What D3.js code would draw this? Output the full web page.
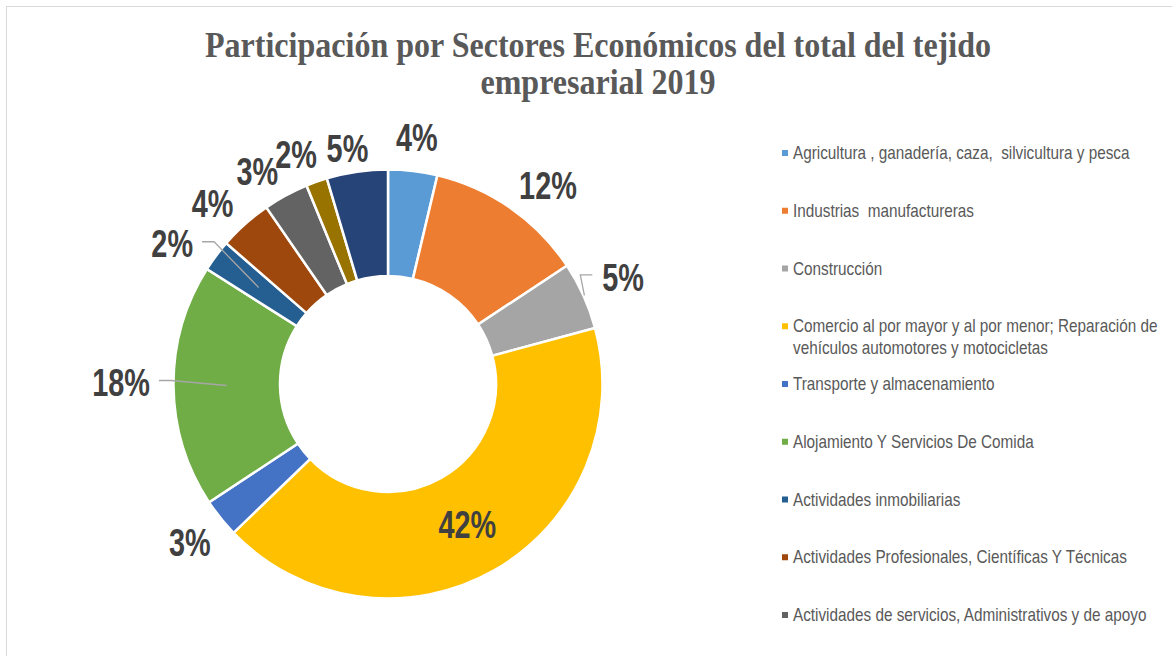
<!DOCTYPE html>
<html><head><meta charset="utf-8">
<script src="https://cdn.jsdelivr.net/npm/d3@7"></script>
<style>body{margin:0;background:#fff;} svg{display:block;} text{white-space:pre;}</style>
</head><body><svg id="c" width="1172" height="656"></svg>
<script>
// ---- data ----
const titleLines = ["Participación por Sectores Económicos del total del tejido", "empresarial 2019"];
// legend entries visible in the chart (the last two slices' legend entries fall outside the frame)
const legendLabels = [
  ["Agricultura , ganadería, caza,  silvicultura y pesca"],
  ["Industrias  manufactureras"],
  ["Construcción"],
  ["Comercio al por mayor y al por menor; Reparación de", "vehículos automotores y motocicletas"],
  ["Transporte y almacenamiento"],
  ["Alojamiento Y Servicios De Comida"],
  ["Actividades inmobiliarias"],
  ["Actividades Profesionales, Científicas Y Técnicas"],
  ["Actividades de servicios, Administrativos y de apoyo"]
];
const shares = [3.7, 12.0, 5.1, 42.0, 2.9, 18.3, 2.4, 4.0, 3.4, 1.6, 4.6];
const colors = ["#5B9BD5", "#ED7D31", "#A5A5A5", "#FFC000", "#4472C4", "#70AD47", "#255E91", "#9E480E", "#636363", "#997300", "#264478"];

// ---- layout config ----
const cx = 388, cy = 384, rOuter = 214.5, rInner = 108;
const labelR = [248, 255, 258, 161, 254, 267, 258, 250, 245, 246, 240];
const labelNudge = [[0,0],[14,10],[0,0],[0,0],[0,0],[0,-4],[-9,14],[-9,6],[-14,3],[-10,2],[-6,2]];
const leaderIdx = {2: "right", 5: "left", 6: "left"};
const TITLE_SX = 0.89;
const LABEL_SX = 0.74;
const LEGEND_SX = 0.85;

const svg = d3.select("#c");

// frame
svg.append("line").attr("x1", 6).attr("x2", 1172).attr("y1", 6.5).attr("y2", 6.5).attr("stroke", "#D9D9D9").attr("stroke-width", 1);
svg.append("line").attr("x1", 6.5).attr("x2", 6.5).attr("y1", 6).attr("y2", 656).attr("stroke", "#D9D9D9").attr("stroke-width", 1);

function sText(g, str, x, y, opts) {
  const t = g.append("text")
    .attr("transform", `translate(${x},${y}) scale(${opts.sx},1)`)
    .attr("text-anchor", opts.anchor || "start")
    .attr("font-family", opts.family)
    .attr("font-size", opts.size)
    .attr("font-weight", opts.weight || "normal")
    .attr("fill", opts.fill);
  if (opts.baseline) t.attr("dominant-baseline", opts.baseline);
  t.text(str);
  return t;
}

// title
const titleBase = [57, 94];
titleLines.forEach((s, i) => sText(svg, s, 598, titleBase[i], {sx: TITLE_SX, anchor: "middle", family: "'Liberation Serif','Times New Roman',serif", size: 36, weight: "bold", fill: "#595959"}));

// donut
const pie = d3.pie().sort(null).value(d => d);
const arcs = pie(shares);
const arc = d3.arc().innerRadius(rInner).outerRadius(rOuter);
const g = svg.append("g").attr("transform", `translate(${cx},${cy})`);
g.selectAll("path").data(arcs).join("path")
  .attr("d", arc).attr("fill", (d, i) => colors[i])
  .attr("stroke", "#fff").attr("stroke-width", 2.5).attr("stroke-linejoin", "miter");

const mid = d => (d.startAngle + d.endAngle) / 2;
const polar = (a, r) => [r * Math.sin(a), -r * Math.cos(a)];

// leader lines (drawn under labels)
const lg = g.append("g");
const labG = g.append("g");
arcs.forEach((d, i) => {
  const a = mid(d);
  const p = polar(a, labelR[i]);
  const x = p[0] + labelNudge[i][0], y = p[1] + labelNudge[i][1];
  const t = sText(labG, Math.round(d.data) + "%", x, y, {sx: LABEL_SX, anchor: "middle", family: "'Liberation Sans',Arial,sans-serif", size: 39, weight: "bold", fill: "#404040", baseline: "central"});
  if (leaderIdx[i]) {
    const hw = t.node().getComputedTextLength() * LABEL_SX / 2;
    let pts;
    if (leaderIdx[i] === "left") {
      const start = [x + hw + 9, y - 2];
      const elbow = [start[0] + 12, start[1]];
      const end = arc.centroid(d);
      pts = [start, elbow, end];
    } else {
      const start = [x - hw - 10, y - 3];
      const elbow = [start[0] - 12, start[1]];
      const end = polar(a, rOuter + 1);
      pts = [start, elbow, end];
    }
    lg.append("path").attr("d", d3.line()(pts)).attr("fill", "none").attr("stroke", "#A6A6A6").attr("stroke-width", 1.3);
  }
});

// legend
const legY0 = 153, legStep = 57.75;
const leg = svg.append("g");
legendLabels.forEach((lines, i) => {
  const y = legY0 + i * legStep;
  leg.append("rect").attr("x", 782).attr("y", y - 3).attr("width", 6).attr("height", 6).attr("fill", colors[i]);
  lines.forEach((s, j) => sText(leg, s, 793, y + 6 + j * 22, {sx: LEGEND_SX, family: "'Liberation Sans',Arial,sans-serif", size: 18, fill: "#595959"}));
});
</script></body></html>
